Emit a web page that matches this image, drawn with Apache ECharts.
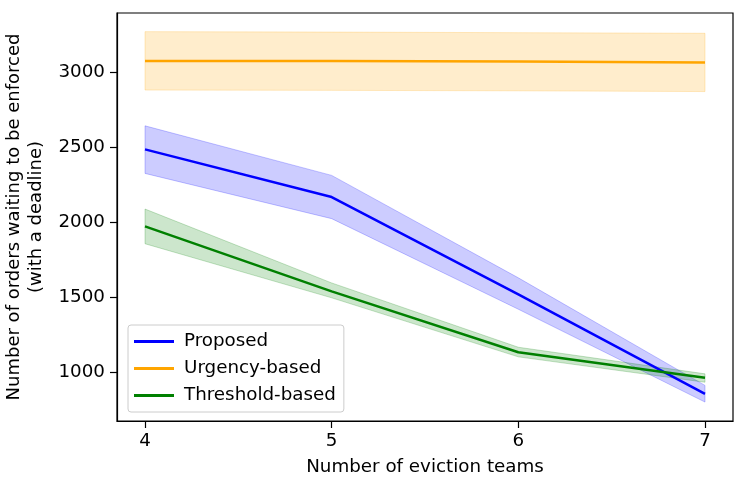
<!DOCTYPE html>
<html>
<head>
<meta charset="utf-8">
<script src="https://cdn.jsdelivr.net/npm/echarts@6/dist/echarts.min.js"></script>
<style>
  html, body { margin: 0; padding: 0; background: #fff; }
  #chart { width: 747px; height: 490px; }
</style>
</head>
<body>
<div id="chart"></div>
<script>
// data
var teams = [4, 5, 6, 7];
var proposedMean = [2485, 2168, 1520, 858];
var proposedLow = [2325, 2024, 1421, 803];
var proposedHigh = [2642, 2312, 1630, 914];
var urgencyMean = [3074, 3073, 3070, 3063];
var urgencyLow = [2880, 2878, 2875, 2870];
var urgencyHigh = [3269, 3266, 3262, 3258];
var thresholdMean = [1973, 1540, 1135, 965];
var thresholdLow = [1857, 1497, 1104, 935];
var thresholdHigh = [2088, 1596, 1168, 991];
var xTicks = [4, 5, 6, 7];
var yTicks = [1000, 1500, 2000, 2500, 3000];

var font = "DejaVu Sans";
var fs = 18.3;

function pairs(ys) {
    return teams.map(function (x, i) { return [x, ys[i]]; });
}

// shaded band between lo and hi, drawn as one polygon through api.coord
function band(key, lo, hi, rgb) {
    var rows = teams.map(function (x, i) { return [x, lo[i], hi[i]]; });
    return {
        name: key, type: "custom", data: rows, silent: true, z: 1,
        encode: { x: 0, y: [1, 2] },
        renderItem: function (params, api) {
            if (params.dataIndex !== 0) return;
            var pts = [];
            rows.forEach(function (r) { pts.push(api.coord([r[0], r[2]])); });
            rows.slice().reverse().forEach(function (r) { pts.push(api.coord([r[0], r[1]])); });
            return {
                type: "polygon",
                shape: { points: pts },
                style: {
                    fill: "rgba(" + rgb + ",0.2)",
                    stroke: "rgba(" + rgb + ",0.22)",
                    lineWidth: 1
                }
            };
        }
    };
}

function mainLine(name, ys, color) {
    return {
        name: name, type: "line", data: pairs(ys), symbol: "none", z: 3,
        lineStyle: { width: 2.5, color: color },
        itemStyle: { color: color }
    };
}

var myChart = echarts.init(document.getElementById("chart"));

var series = [
    band("p", proposedLow, proposedHigh, "0,0,255"),
    band("u", urgencyLow, urgencyHigh, "255,165,0"),
    band("t", thresholdLow, thresholdHigh, "0,128,0"),
    mainLine("Proposed", proposedMean, "#0000ff"),
    mainLine("Urgency-based", urgencyMean, "#ffa500"),
    mainLine("Threshold-based", thresholdMean, "#008000")
];

myChart.setOption({
    animation: false,
    textStyle: { fontFamily: font },
    grid: {
        left: 117, top: 13, right: 14, bottom: 69,
        outerBoundsMode: "none", containLabel: false,
        show: true, borderColor: "#000", borderWidth: 1.2, backgroundColor: "#fff"
    },
    legend: {
        data: ["Proposed", "Urgency-based", "Threshold-based"],
        orient: "vertical",
        left: 128, top: 325,
        icon: "rect",
        itemWidth: 40, itemHeight: 3, itemGap: 6,
        padding: [6, 8, 6, 6],
        borderColor: "#cccccc", borderWidth: 1, borderRadius: 3,
        backgroundColor: "rgba(255,255,255,0.8)",
        textStyle: { fontFamily: font, fontSize: fs, color: "#000", padding: [0, 0, 0, 5], lineHeight: 21 }
    },
    xAxis: {
        type: "value", min: 3.85, max: 7.15,
        name: "Number of eviction teams",
        nameLocation: "middle", nameGap: 37,
        nameTextStyle: { fontFamily: font, fontSize: fs, color: "#000" },
        splitLine: { show: false },
        axisLine: { show: true, lineStyle: { color: "#000", width: 1.2 } },
        axisTick: { show: true, customValues: xTicks, length: 7, inside: false, lineStyle: { color: "#000", width: 1.2 } },
        axisLabel: { customValues: xTicks, fontSize: fs, color: "#000", margin: 11, fontFamily: font }
    },
    yAxis: {
        type: "value", min: 677, max: 3393,
        name: "Number of orders waiting to be enforced\n(with a deadline)",
        nameLocation: "middle", nameGap: 63, nameRotate: 90,
        nameTextStyle: { fontFamily: font, fontSize: 18, color: "#000", lineHeight: 22 },
        splitLine: { show: false },
        axisLine: { show: true, lineStyle: { color: "#000", width: 1.2 } },
        axisTick: { show: true, customValues: yTicks, length: 7, inside: false, lineStyle: { color: "#000", width: 1.2 } },
        axisLabel: {
            customValues: yTicks, fontSize: fs, color: "#000", margin: 12, fontFamily: font,
            formatter: function (v) { return String(v); }
        }
    },
    series: series
});
</script>
</body>
</html>
